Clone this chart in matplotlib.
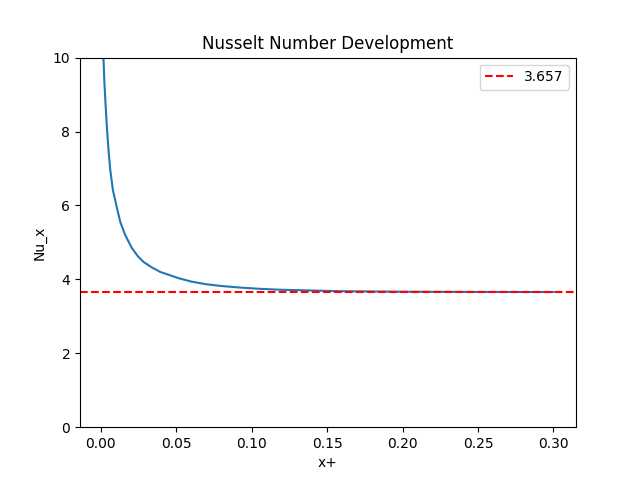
import matplotlib
matplotlib.use("Agg")
import matplotlib.pyplot as plt

# values
x_plus = [0.0012, 0.0018, 0.0024, 0.0031, 0.0041, 0.0051, 0.0063, 0.0080,
          0.0107, 0.0129, 0.0162, 0.0206, 0.0245, 0.0284, 0.0340, 0.0395,
          0.0517, 0.0600, 0.0695, 0.0800, 0.0916, 0.1050, 0.1183, 0.1380,
          0.1580, 0.2000, 0.2500, 0.3000]
nu_x = [10.6, 10.0, 9.35, 8.8, 8.1, 7.52, 6.97, 6.43,
        5.94, 5.56, 5.20, 4.85, 4.63, 4.47, 4.32, 4.20,
        4.03, 3.94, 3.87, 3.82, 3.78, 3.745, 3.72, 3.70,
        3.68, 3.665, 3.66, 3.657]
nu_fd = 3.657

fig, ax = plt.subplots(figsize=(6.4, 4.8), dpi=100)
ax.plot(x_plus, nu_x)
ax.axhline(nu_fd, color="r", linestyle="--", label="3.657")
ax.set_ylim(0, 10)
ax.set_xlabel("x+")
ax.set_ylabel("Nu_x")
ax.set_title("Nusselt Number Development")
ax.legend(loc="upper right")

plt.savefig("out.png", dpi=100)
